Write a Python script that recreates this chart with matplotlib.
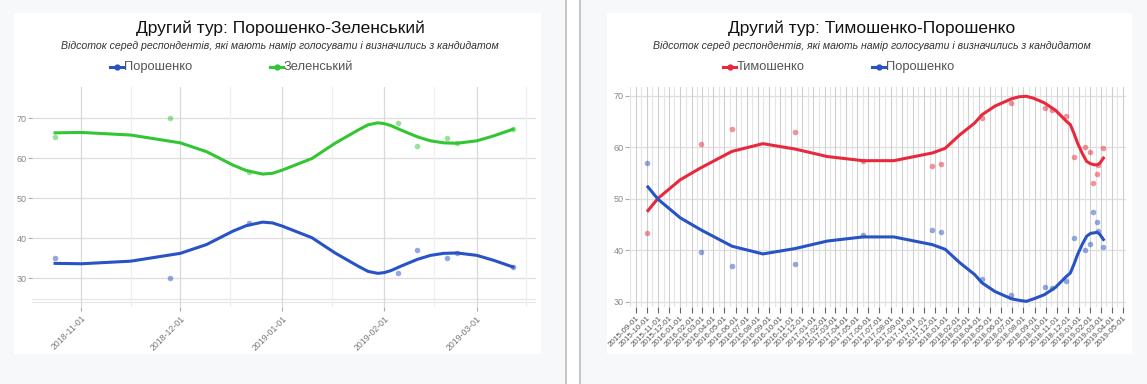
import numpy as np
import matplotlib
matplotlib.use('Agg')
import matplotlib.pyplot as plt
import matplotlib.dates as mdates
from matplotlib.patches import Rectangle
from matplotlib.lines import Line2D

plt.rcParams['font.family'] = ['Liberation Sans', 'DejaVu Sans']

W, H = 1147, 384

# ---- left chart: Порошенко vs Зеленський ----
l_title = 'Другий тур: Порошенко-Зеленський'
l_names = ['Порошенко', 'Зеленський']
l_dates = ['2018-10-24', '2018-11-28', '2018-12-22', '2019-02-05', '2019-02-11',
           '2019-02-20', '2019-02-23', '2019-03-12']
l_por = [35.0, 30.0, 43.8, 31.3, 37.0, 35.0, 36.3, 32.8]
l_zel = [65.2, 70.0, 56.5, 68.8, 63.0, 65.0, 63.8, 67.3]

l_fit_dates = ['2018-10-24', '2018-11-01', '2018-11-16', '2018-12-01', '2018-12-09',
               '2018-12-17', '2018-12-21', '2018-12-26', '2018-12-29', '2019-01-01',
               '2019-01-10', '2019-01-17', '2019-01-24', '2019-01-27', '2019-01-30',
               '2019-02-01', '2019-02-03', '2019-02-06', '2019-02-11', '2019-02-15',
               '2019-02-19', '2019-02-23', '2019-03-01', '2019-03-06', '2019-03-12']
l_fit_zel = [66.3, 66.4, 65.75, 63.8, 61.6, 58.25, 56.9, 56.0, 56.2, 57.0,
             59.9, 63.7, 67.0, 68.3, 68.8, 68.6, 68.1, 67.0, 65.3, 64.3,
             63.8, 63.7, 64.3, 65.5, 67.2]
l_fit_por = [33.7, 33.6, 34.25, 36.2, 38.4, 41.75, 43.1, 44.0, 43.8, 43.0,
             40.1, 36.3, 33.0, 31.7, 31.2, 31.4, 31.9, 33.0, 34.7, 35.7,
             36.2, 36.3, 35.7, 34.5, 32.8]

# ---- right chart: Тимошенко vs Порошенко ----
r_title = 'Другий тур: Тимошенко-Порошенко'
r_names = ['Тимошенко', 'Порошенко']
r_dates = ['2015-10-02', '2016-02-26', '2016-05-22', '2016-11-12', '2017-05-17',
           '2017-11-24', '2017-12-17', '2018-04-08', '2018-06-29', '2018-09-28',
           '2018-10-19', '2018-11-25', '2018-12-18', '2019-01-17', '2019-02-01',
           '2019-02-08', '2019-02-18', '2019-02-22', '2019-03-09']
r_tym = [43.3, 60.7, 63.5, 63.0, 57.4, 56.4, 56.8, 65.6, 68.6, 67.6,
         67.3, 66.0, 58.1, 60.0, 59.0, 53.0, 54.8, 56.5, 59.8]
r_por = [57.0, 39.6, 36.9, 37.4, 43.0, 44.0, 43.6, 34.4, 31.4, 32.8,
         32.7, 34.0, 42.3, 40.1, 41.3, 47.4, 45.5, 43.8, 40.6]

r_fit_dates = ['2015-10-04', '2015-11-01', '2016-01-01', '2016-02-26', '2016-05-22',
               '2016-08-15', '2016-11-12', '2017-02-08', '2017-05-17', '2017-08-10',
               '2017-11-24', '2017-12-29', '2018-02-07', '2018-03-20', '2018-04-09',
               '2018-05-15', '2018-06-29', '2018-07-20', '2018-08-09', '2018-08-30',
               '2018-09-28', '2018-10-28', '2018-11-28', '2018-12-08', '2018-12-18',
               '2018-12-28', '2019-01-10', '2019-01-22', '2019-02-02', '2019-02-12',
               '2019-02-20', '2019-02-27', '2019-03-09']
r_fit_tym = [47.7, 50.1, 53.7, 56.0, 59.2, 60.7, 59.65, 58.2, 57.4, 57.4,
             58.9, 59.8, 62.4, 64.7, 66.3, 68.0, 69.4, 69.8, 69.9, 69.5,
             68.6, 67.2, 65.0, 64.4, 62.7, 60.8, 58.8, 57.25, 56.8, 56.6,
             56.6, 56.9, 57.9]
r_fit_por = [52.3, 49.9, 46.3, 44.0, 40.8, 39.3, 40.35, 41.8, 42.6, 42.6,
             41.1, 40.2, 37.6, 35.3, 33.7, 32.0, 30.6, 30.3, 30.1, 30.6,
             31.4, 32.8, 35.0, 35.6, 37.3, 39.2, 41.2, 42.75, 43.3, 43.4,
             43.5, 43.1, 42.1]

subtitle = 'Відсоток серед респондентів, які мають намір голосувати і визначились з кандидатом'
yticks = [30, 40, 50, 60, 70]

BLUE, GREEN, RED = '#2753c4', '#33c633', '#e8283c'


def d(lst):
    return np.array(lst, dtype='datetime64[D]')


def fx(x):
    return x / W


def fy(y):
    return 1 - y / H


fig = plt.figure(figsize=(W / 100, H / 100), dpi=100)
fig.patch.set_facecolor('#f7f8fa')

# white cards and the divider
for x0, x1 in [(14, 541), (607, 1132)]:
    fig.add_artist(Rectangle((fx(x0), fy(354)), fx(x1 - x0), (354 - 13) / H,
                             transform=fig.transFigure, facecolor='white',
                             edgecolor='none', zorder=-10))
fig.add_artist(Rectangle((fx(567), 0), fx(12), 1, transform=fig.transFigure,
                         facecolor='white', edgecolor='none', zorder=-10))
for xl in [565, 579]:
    fig.add_artist(Rectangle((fx(xl), 0), fx(2), 1, transform=fig.transFigure,
                             facecolor='#c6c6c6', edgecolor='none', zorder=-10))


def header(cx, title, names, colors, legx):
    fig.text(fx(cx), fy(28), title, ha='center', va='center', fontsize=12.5, color='#111111')
    fig.text(fx(cx), fy(46), subtitle, ha='center', va='center', fontsize=7.6,
             style='italic', color='#333333')
    for name, col, lx in zip(names, colors, legx):
        fig.add_artist(Line2D([fx(lx), fx(lx + 6.5), fx(lx + 13)], [fy(67)] * 3,
                              transform=fig.transFigure, color=col, lw=2.2,
                              marker='o', ms=3.5, markevery=[1]))
        fig.text(fx(lx + 14), fy(67), name, ha='left', va='center', fontsize=9.3,
                 color='#555555')


def style_axes(ax):
    ax.set_facecolor('none')
    for s in ax.spines.values():
        s.set_visible(False)
    ax.set_yticks(yticks)
    ax.tick_params(axis='y', length=3, color='#aaaaaa', labelsize=6.5,
                   labelcolor='#888888', pad=1)
    for v in yticks:
        ax.axhline(v, color='#dedede', lw=0.9, zorder=0)


# ---- left plot ----
header(280, l_title, l_names, [BLUE, GREEN], [110, 270])
ax1 = fig.add_axes([fx(32), fy(307), fx(504), (307 - 87) / H])
style_axes(ax1)
ax1.set_xlim(np.datetime64('2018-10-17'), np.datetime64('2019-03-19'))
ax1.set_ylim(22.8, 77.75)
for v in [24.8, 24.0, 22.9]:
    ax1.axhline(v, color='#e6e6e6', lw=0.8, zorder=0)
ax1.xaxis.set_major_locator(mdates.MonthLocator())
ax1.xaxis.set_minor_locator(mdates.MonthLocator(bymonthday=16))
ax1.xaxis.set_major_formatter(mdates.DateFormatter('%Y-%m-%d'))
ax1.grid(axis='x', which='major', color='#d9d9d9', lw=0.9, zorder=0)
ax1.grid(axis='x', which='minor', color='#efefef', lw=0.9, zorder=0)
ax1.tick_params(axis='x', which='major', length=3, color='#aaaaaa', labelsize=6.3,
                labelcolor='#777777', pad=2)
ax1.tick_params(axis='x', which='minor', length=0)
for lab in ax1.get_xticklabels():
    lab.set_rotation(45)
    lab.set_ha('right')
    lab.set_rotation_mode('anchor')

ax1.scatter(d(l_dates), l_por, s=16, color=BLUE, alpha=0.5, lw=0, zorder=3)
ax1.scatter(d(l_dates), l_zel, s=16, color=GREEN, alpha=0.5, lw=0, zorder=3)
ax1.plot(d(l_fit_dates), l_fit_por, color=BLUE, lw=2.2, zorder=4, solid_joinstyle='round')
ax1.plot(d(l_fit_dates), l_fit_zel, color=GREEN, lw=2.2, zorder=4, solid_joinstyle='round')

# ---- right plot ----
header(872, r_title, r_names, [RED, BLUE], [723, 872])
ax2 = fig.add_axes([fx(629), fy(307), fx(497), (307 - 87) / H])
style_axes(ax2)
ax2.set_xlim(np.datetime64('2015-08-13'), np.datetime64('2019-05-10'))
ax2.set_ylim(29.0, 71.7)
ax2.xaxis.set_major_locator(mdates.MonthLocator())
ax2.xaxis.set_minor_locator(mdates.MonthLocator(bymonthday=16))
ax2.xaxis.set_major_formatter(mdates.DateFormatter('%Y-%m-%d'))
ax2.grid(axis='x', which='major', color='#cfcfcf', lw=0.8, zorder=0)
ax2.grid(axis='x', which='minor', color='#e4e4e4', lw=0.8, zorder=0)
ax2.tick_params(axis='x', which='major', length=4, color='#666666', labelsize=5.8,
                labelcolor='#555555', pad=1.5)
ax2.tick_params(axis='x', which='minor', length=0)
for lab in ax2.get_xticklabels():
    lab.set_rotation(45)
    lab.set_ha('right')
    lab.set_rotation_mode('anchor')

ax2.scatter(d(r_dates), r_tym, s=16, color=RED, alpha=0.5, lw=0, zorder=3)
ax2.scatter(d(r_dates), r_por, s=16, color=BLUE, alpha=0.5, lw=0, zorder=3)
ax2.plot(d(r_fit_dates), r_fit_tym, color=RED, lw=2.2, zorder=4, solid_joinstyle='round')
ax2.plot(d(r_fit_dates), r_fit_por, color=BLUE, lw=2.2, zorder=4, solid_joinstyle='round')

fig.savefig('out.png', dpi=100, facecolor=fig.get_facecolor())
